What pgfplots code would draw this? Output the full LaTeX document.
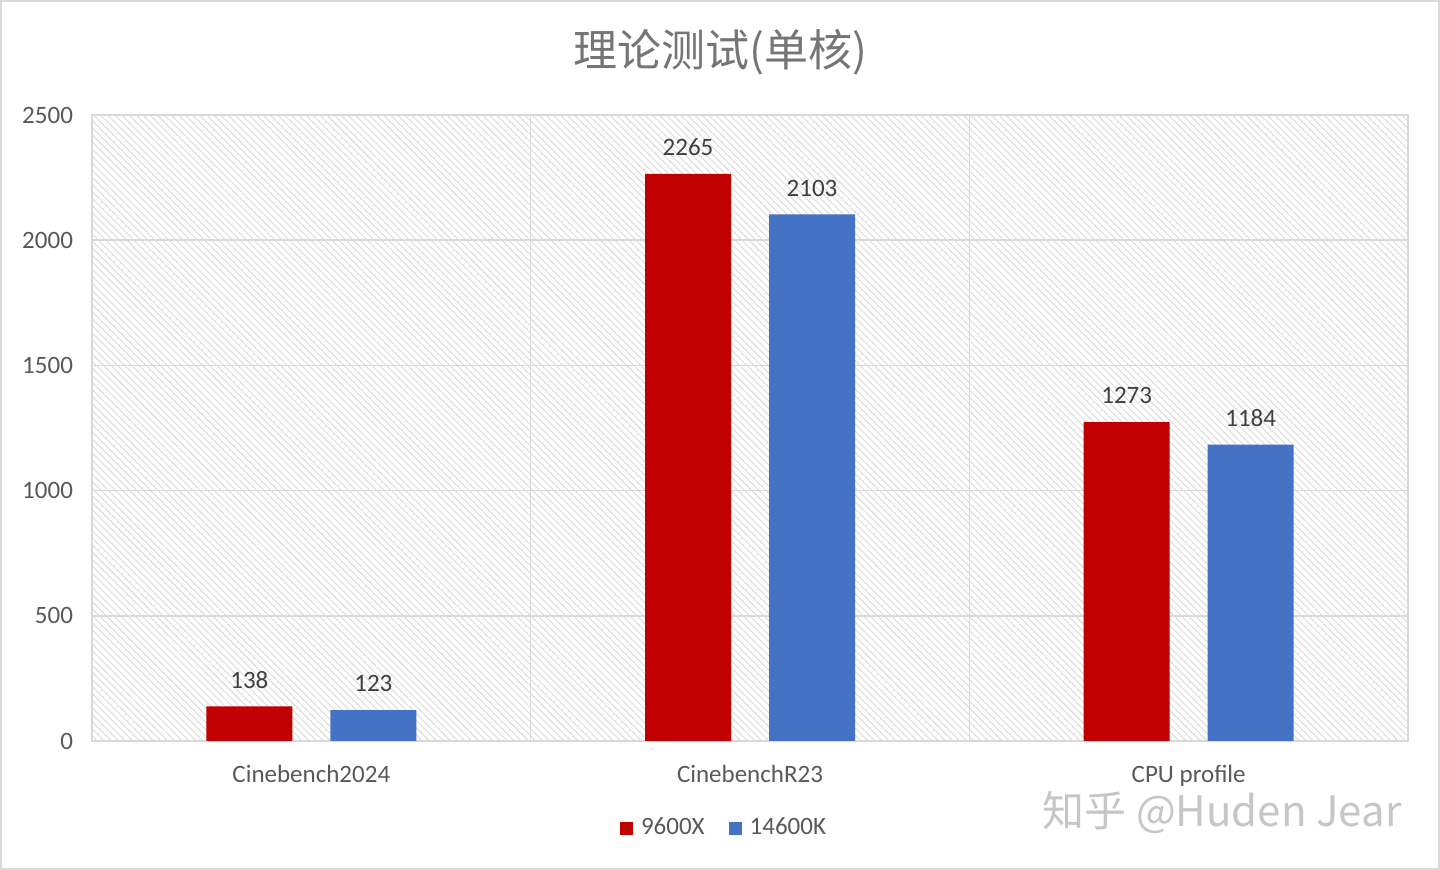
\documentclass[border=0pt]{standalone}
\usepackage{pgfplots}
\pgfplotsset{compat=1.18}
\usetikzlibrary{patterns.meta}
\usepackage{fontspec}
\setmainfont{Carlito}
\newfontfamily\cjk{Noto Sans CJK SC}
\definecolor{cred}{HTML}{C00000}
\definecolor{cblue}{HTML}{4472C4}
\definecolor{txt}{HTML}{595959}
\definecolor{lbl}{HTML}{404040}
\definecolor{ttl}{HTML}{757575}
\definecolor{gridc}{HTML}{D9D9D9}
\begin{document}
\begin{tikzpicture}
\draw[gridc, line width=1pt, fill=white] (0.5pt,0.5pt) rectangle (719.5pt,434.5pt);
\node[text=ttl, font=\cjk\fontsize{22}{26}\selectfont] at (360pt,409pt) {理论测试(单核)};
\begin{axis}[
  at={(46pt,64.5pt)}, anchor=south west,
  width=658pt, height=313pt, scale only axis,
  ybar=19pt, bar width=43pt,
  xmin=-0.5, xmax=2.5, ymin=0, ymax=2500,
  xtick={0,1,2}, xticklabels={Cinebench2024,CinebenchR23,CPU profile},
  minor xtick={0.5,1.5}, xminorgrids, ymajorgrids,
  ytick={0,500,1000,1500,2000,2500},
  scaled y ticks=false,
  /pgf/number format/1000 sep={},
  /pgf/number format/assume math mode=true,
  major tick length=0pt, minor tick length=0pt,
  axis line style={gridc, line width=0.8pt},
  grid style={gridc, line width=0.8pt},
  minor grid style={gridc, line width=0.8pt},
  tick label style={font=\fontsize{12.5}{15}\selectfont, text=txt},
  yticklabel style={xshift=-6pt},
  xticklabel style={yshift=-8.5pt},
  axis background/.style={pattern={Lines[angle=-45,distance=2.5pt,line width=0.45pt]}, pattern color=gridc},
  nodes near coords,
  nodes near coords style={font=\fontsize{12.5}{15}\selectfont, text=lbl, yshift=5.5pt},
  legend style={at={(0.481,-0.139)}, anchor=center, draw=none, fill=none,
    legend columns=2, font=\fontsize{12.5}{15}\selectfont, text=txt,
    /tikz/every even column/.append style={column sep=10pt},
    /tikz/every odd column/.append style={column sep=2pt}},
  legend image code/.code={\fill (0pt,-3.25pt) rectangle (6.5pt,3.25pt);},
]
\addplot[fill=cred, draw=none] coordinates {(0,138) (1,2265) (2,1273)};
\addplot[fill=cblue, draw=none] coordinates {(0,123) (1,2103) (2,1184)};
\legend{9600X,14600K}
\end{axis}
\node[text=gray!45, font=\cjk\fontsize{21}{24}\selectfont] at (611pt,29pt) {知乎 @Huden Jear};
\end{tikzpicture}
\end{document}
